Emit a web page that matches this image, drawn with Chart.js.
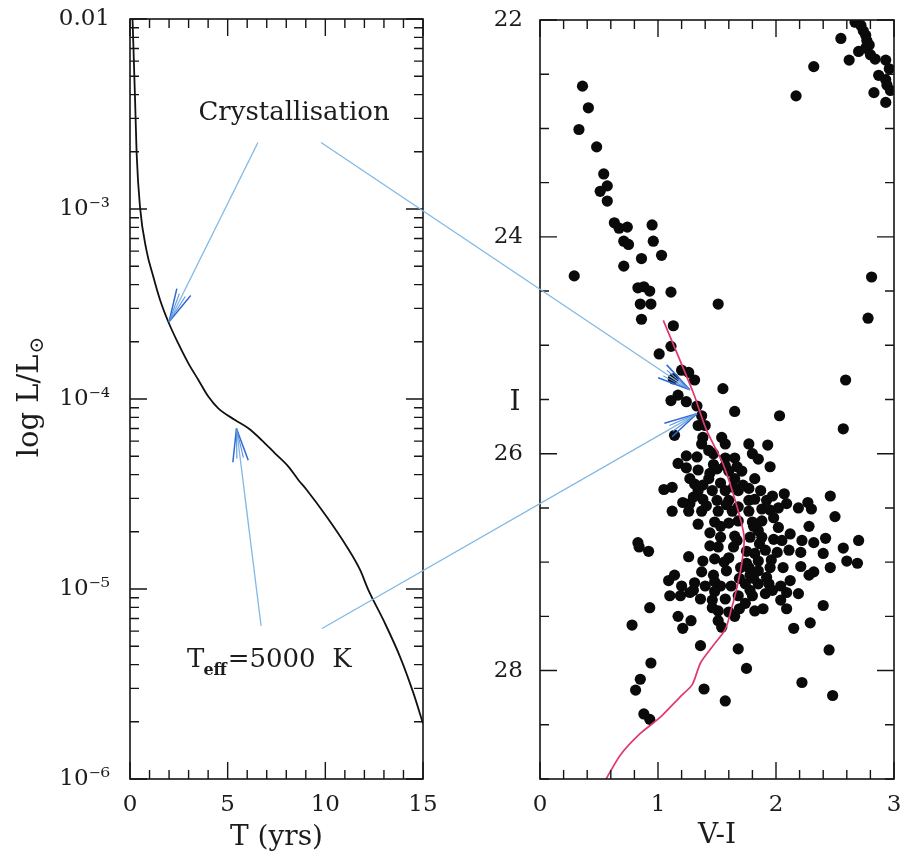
<!DOCTYPE html>
<html><head><meta charset="utf-8">
<script src="https://cdn.jsdelivr.net/npm/chart.js@4.4.1/dist/chart.umd.min.js"></script>
<style>
html,body{margin:0;padding:0;background:#fff;}
#wrap{position:relative;width:905px;height:863px;overflow:hidden;background:#fff;}
#wrap canvas{position:absolute;top:0;}
#cL{left:0;} #cR{left:460px;} #ov{left:0;pointer-events:none;}
</style></head><body>
<div id="wrap">
<canvas id="cL" width="460" height="863"></canvas>
<canvas id="cR" width="445" height="863"></canvas>
<canvas id="ov" width="905" height="863"></canvas>
</div>
<script>
// ---------------- DATA ----------------
// Left panel: white-dwarf cooling curve, age vs luminosity (L/Lsun)
const coolingAge = [0.13, 0.26, 0.34, 0.51, 0.84, 1.19, 1.54, 1.96, 2.47, 2.99, 3.50, 4.01, 4.52, 5.38, 6.06, 6.74, 7.42, 8.11, 8.62, 9.05, 10.07, 11.10, 11.78, 12.20, 12.97, 13.82, 14.51, 15.0];
const coolingLum = [1.0e-2, 3.75e-3, 1.96e-3, 1.03e-3, 6.08e-4, 4.41e-4, 3.32e-4, 2.55e-4, 1.96e-4, 1.54e-4, 1.26e-4, 1.03e-4, 8.93e-5, 7.75e-5, 7.01e-5, 6.08e-5, 5.18e-5, 4.41e-5, 3.75e-5, 3.32e-5, 2.40e-5, 1.67e-5, 1.26e-5, 9.9e-6, 6.87e-6, 4.41e-6, 2.83e-6, 1.96e-6];

// Right panel: theoretical sequence (red line), V-I vs I
const trackVI = [1.045, 1.30, 1.41, 1.55, 1.67, 1.73, 1.71, 1.67, 1.62, 1.57, 1.46, 1.36, 1.29, 1.19, 1.02, 0.85, 0.68, 0.56];
const trackI  = [24.77, 25.44, 25.78, 26.09, 26.49, 26.77, 27.01, 27.23, 27.44, 27.62, 27.78, 27.93, 28.13, 28.24, 28.43, 28.58, 28.78, 29.0];

// Right panel: observed stars [V-I, I]
const upperBranch = [[0.36,22.61],[0.41,22.81],[0.33,23.01],[0.48,23.17],[0.54,23.42],[0.57,23.53],[0.51,23.58],[0.57,23.67],[0.63,23.87],[0.67,23.92],[0.74,23.91],[0.95,23.89],[0.71,24.04],[0.75,24.07],[0.96,24.04],[0.86,24.20],[1.03,24.17],[0.71,24.27],[0.29,24.36],[0.83,24.47],[0.88,24.46],[0.93,24.50],[1.11,24.51],[0.85,24.62],[0.94,24.62],[1.51,24.62],[0.86,24.76],[1.13,24.82],[1.11,25.01],[1.01,25.08],[1.20,25.23],[1.26,25.25],[1.31,25.32],[1.13,25.31],[1.55,25.40],[1.17,25.46],[1.11,25.51],[1.24,25.52],[1.33,25.56],[1.37,25.65],[1.65,25.61],[2.03,25.65],[2.59,25.32],[2.81,24.37],[2.78,24.75],[1.34,25.74],[1.40,25.74],[2.57,25.77]];
const redStars = [[2.55,22.17],[2.62,22.37],[2.32,22.43],[2.17,22.70],[2.67,22.02],[2.72,22.05],[2.74,22.10],[2.76,22.14],[2.77,22.19],[2.79,22.23],[2.70,22.29],[2.76,22.26],[2.80,22.32],[2.84,22.36],[2.93,22.37],[2.96,22.45],[2.87,22.51],[2.93,22.55],[2.94,22.60],[2.97,22.65],[2.83,22.67],[2.93,22.76]];
const sparseStars = [[1.14,25.83],[1.93,25.92],[2.46,26.39],[2.50,26.58],[2.70,26.80],[2.57,26.87],[2.69,27.01],[2.60,26.99],[2.46,27.05],[2.40,27.40],[2.29,27.56],[2.15,27.61],[2.45,27.81],[2.22,28.11],[2.48,28.23],[1.68,27.80],[1.75,27.98],[1.39,28.17],[1.57,28.28],[1.36,27.77],[0.94,27.93],[0.85,28.08],[0.81,28.18],[0.88,28.40],[0.93,28.45],[0.78,27.58],[0.93,27.42],[0.83,26.82],[0.84,26.86],[0.92,26.90],[1.17,27.50],[1.21,27.61],[1.28,27.54],[1.05,26.33],[1.12,26.31],[1.12,26.53],[1.26,26.95]];
const clumpUpper = [[1.38,25.85],[1.54,25.85],[1.57,25.91],[1.77,25.91],[1.37,25.91],[1.43,25.97],[1.24,26.02],[1.17,26.09],[1.24,26.13],[1.34,26.15],[1.47,26.10],[1.57,26.04],[1.65,26.04],[1.80,26.00],[1.85,26.05],[1.71,26.16],[1.60,26.16],[1.50,26.14],[1.27,26.23],[1.31,26.28],[1.43,26.23],[1.53,26.27],[1.65,26.23],[1.82,26.23],[1.34,26.34],[1.46,26.34],[1.57,26.34],[1.68,26.34],[1.77,26.32],[1.87,26.34],[1.21,26.45],[1.27,26.46],[1.38,26.42],[1.50,26.43],[1.60,26.43],[1.77,26.43],[1.82,26.42],[1.92,26.43],[1.26,26.53],[1.37,26.53],[1.51,26.53],[1.63,26.53],[1.77,26.53],[1.88,26.51],[1.34,26.65],[1.48,26.63],[1.68,26.62],[1.80,26.63],[1.88,26.62],[1.97,26.39],[2.07,26.37],[2.02,26.50],[2.19,26.50],[2.27,26.45],[2.30,26.51],[1.98,26.59]];
const clumpLower = [[1.44,26.73],[1.53,26.77],[1.65,26.76],[1.85,26.71],[1.44,26.85],[1.51,26.86],[1.64,26.86],[1.38,26.99],[1.48,26.97],[1.60,26.96],[1.82,26.92],[1.91,26.89],[1.37,27.09],[1.47,27.12],[1.58,27.08],[1.77,27.05],[1.85,27.08],[1.09,27.17],[1.14,27.12],[1.20,27.22],[1.31,27.19],[1.40,27.22],[1.53,27.22],[1.74,27.20],[1.85,27.20],[1.10,27.31],[1.19,27.31],[1.27,27.28],[1.36,27.34],[1.46,27.35],[1.57,27.34],[1.68,27.31],[1.80,27.31],[1.91,27.29],[1.46,27.42],[1.51,27.45],[1.82,27.45],[1.89,27.43],[1.65,27.50],[1.51,27.54],[1.54,27.60]];
const clumpRed = [[2.28,26.67],[2.12,26.74],[2.02,26.68],[1.88,26.77],[1.98,26.79],[2.22,26.80],[2.32,26.82],[2.42,26.78],[2.01,26.91],[2.11,26.89],[2.21,26.91],[2.40,26.92],[2.32,27.09],[2.28,27.12],[2.06,27.05],[2.21,27.04],[1.85,26.99],[1.94,27.20],[2.04,27.22],[2.12,27.17],[2.19,27.29],[2.09,27.28],[1.97,27.26],[2.09,27.43],[2.04,27.35]];
const clumpCore = [[1.33,26.03],[1.47,26.00],[1.57,26.11],[1.67,26.12],[1.95,26.12],[1.38,26.29],[1.64,26.31],[1.72,26.29],[1.58,26.47],[1.68,26.49],[1.95,26.52],[2.09,26.46],[1.53,26.67],[1.60,26.64],[1.81,26.67],[1.67,26.80],[1.78,26.77],[1.86,26.83],[2.05,26.80],[1.75,27.01],[1.96,26.98],[1.69,27.15],[1.81,27.15],[1.92,27.14],[1.48,27.18],[1.30,27.26],[1.48,27.27],[1.78,27.26],[1.60,27.46],[1.69,27.43],[1.75,26.90],[1.78,27.12],[1.74,27.38],[1.70,27.05],[1.41,26.48],[1.44,26.18],[1.30,26.40],[1.56,27.00],[1.62,27.22],[1.95,27.05]];

// Tick values / labels
const ageTicks = [0, 5, 10, 15];
const lumTickValues = [1e-6, 1e-5, 1e-4, 1e-3, 1e-2];
const lumTickLabels = ['10⁻⁶', '10⁻⁵', '10⁻⁴', '10⁻³', '0.01'];
const colourTicks = [0, 1, 2, 3];
const magTicks = [22, 24, 26, 28];

// ---------------- helpers ----------------
const FAMILY = "'DejaVu Serif', serif";
Chart.defaults.font.family = FAMILY;
Chart.defaults.color = '#1c1c1c';
const range = (a, b, s) => { const r = []; for (let v = a; v <= b + 1e-9; v += s) r.push(+v.toFixed(6)); return r; };
const lumMinor = []; for (let e = -6; e < -2; e++) for (let k = 2; k <= 9; k++) lumMinor.push(k * Math.pow(10, e));

const boxTicks = {
  id: 'boxTicks',
  afterDraw(chart, _a, o) {
    const {ctx, chartArea: a, scales: {x, y}} = chart;
    ctx.save();
    ctx.strokeStyle = '#151515';
    ctx.lineWidth = 1.6;
    ctx.strokeRect(a.left, a.top, a.right - a.left, a.bottom - a.top);
    ctx.lineWidth = 1.4;
    ctx.beginPath();
    const xs = o.xMinor.map(v => [v, 9]).concat(o.xMajor.map(v => [v, 17]));
    for (const [v, len] of xs) {
      const p = x.getPixelForValue(v);
      if (p < a.left - 0.5 || p > a.right + 0.5) continue;
      ctx.moveTo(p, a.bottom); ctx.lineTo(p, a.bottom - len);
      ctx.moveTo(p, a.top); ctx.lineTo(p, a.top + len);
    }
    const ys = o.yMinor.map(v => [v, 9]).concat(o.yMajor.map(v => [v, 17]));
    for (const [v, len] of ys) {
      const p = y.getPixelForValue(v);
      if (p < a.top - 0.5 || p > a.bottom + 0.5) continue;
      ctx.moveTo(a.left, p); ctx.lineTo(a.left + len, p);
      ctx.moveTo(a.right, p); ctx.lineTo(a.right - len, p);
    }
    ctx.stroke();
    ctx.restore();
  }
};

const sideTitle = {
  id: 'sideTitle',
  afterDraw(chart, _a, o) {
    const {ctx, chartArea: a} = chart;
    ctx.save();
    ctx.fillStyle = '#1c1c1c';
    ctx.translate(o.x, (a.top + a.bottom) / 2 + (o.dy || 0));
    if (o.rotate) ctx.rotate(-Math.PI / 2);
    const mainFont = o.size + 'px ' + FAMILY, subFont = (o.subSize || 18) + 'px ' + FAMILY;
    ctx.font = mainFont; const w1 = ctx.measureText(o.text).width;
    let w2 = 0;
    if (o.sub) { ctx.font = subFont; w2 = ctx.measureText(o.sub).width + 1; }
    const start = -(w1 + w2) / 2;
    ctx.textAlign = 'left'; ctx.textBaseline = 'alphabetic';
    ctx.font = mainFont; ctx.fillText(o.text, start, o.baseline);
    if (o.sub) { ctx.font = subFont; ctx.fillText(o.sub, start + w1 + 1, o.baseline + o.subShift); }
    ctx.restore();
  }
};

const tickFont = {size: 23};
const noGrid = {display: false, drawTicks: false};
const zeroPad = s => { s.paddingTop = 0; s.paddingBottom = 0; s.paddingLeft = 0; s.paddingRight = 0; };

// ---------------- LEFT CHART ----------------
const leftChart = new Chart(document.getElementById('cL'), {
  type: 'line',
  data: {
    datasets: [{
      data: coolingAge.map((t, i) => ({x: t, y: coolingLum[i]})),
      borderColor: '#111', borderWidth: 1.8, pointRadius: 0,
      cubicInterpolationMode: 'monotone', fill: false
    }]
  },
  options: {
    responsive: false, animation: false, events: [],
    layout: {autoPadding: false, padding: {left: 0, right: 37, top: 19, bottom: 0}},
    plugins: {
      legend: {display: false}, tooltip: {enabled: false},
      boxTicks: {xMajor: ageTicks, xMinor: range(0, 15, 1), yMajor: lumTickValues, yMinor: lumMinor},
      sideTitle: {text: 'log L/L', sub: '⊙', size: 29, subSize: 20, subShift: 5, x: 38, dy: -2, baseline: 0, rotate: true}
    },
    scales: {
      x: {
        type: 'linear', min: 0, max: 15,
        afterBuildTicks: s => { s.ticks = ageTicks.map(v => ({value: v})); },
        ticks: {font: tickFont, padding: 12, maxRotation: 0, autoSkip: false},
        grid: noGrid, border: {display: false},
        title: {display: true, text: 'T (yrs)', font: {size: 28}, padding: {top: 0, bottom: 8}},
        afterFit: s => { s.height = 84; zeroPad(s); }
      },
      y: {
        type: 'logarithmic', min: 1e-6, max: 1e-2,
        afterBuildTicks: s => { s.ticks = lumTickValues.map(v => ({value: v})); },
        ticks: {font: tickFont, padding: 20, autoSkip: false,
                callback: v => lumTickLabels[lumTickValues.indexOf(v)]},
        grid: noGrid, border: {display: false},
        afterFit: s => { s.width = 130; zeroPad(s); }
      }
    }
  },
  plugins: [boxTicks, sideTitle]
});

// ---------------- RIGHT CHART ----------------
const allStars = upperBranch.concat(redStars, sparseStars, clumpUpper, clumpLower, clumpRed, clumpCore);
const rightChart = new Chart(document.getElementById('cR'), {
  type: 'scatter',
  data: {
    datasets: [
      {
        data: trackVI.map((v, i) => ({x: v, y: trackI[i]})),
        showLine: true, borderColor: '#e0386c', borderWidth: 1.7, pointRadius: 0,
        tension: 0.25, fill: false, order: 0
      },
      {
        data: allStars.map(p => ({x: p[0], y: p[1]})),
        pointRadius: 5.6, pointBackgroundColor: '#0a0a0a', pointBorderWidth: 0,
        borderColor: '#0a0a0a', showLine: false, order: 1
      }
    ]
  },
  options: {
    responsive: false, animation: false, events: [],
    layout: {autoPadding: false, padding: {left: 0, right: 11, top: 20, bottom: 0}},
    plugins: {
      legend: {display: false}, tooltip: {enabled: false},
      boxTicks: {xMajor: colourTicks, xMinor: range(0, 3, 0.2), yMajor: magTicks, yMinor: range(22, 29, 0.5)},
      sideTitle: {text: 'I', size: 28, x: 55, dy: 0, baseline: 10, rotate: false}
    },
    scales: {
      x: {
        type: 'linear', min: 0, max: 3,
        afterBuildTicks: s => { s.ticks = colourTicks.map(v => ({value: v})); },
        ticks: {font: tickFont, padding: 12, maxRotation: 0, autoSkip: false},
        grid: noGrid, border: {display: false},
        title: {display: true, text: 'V-I', font: {size: 28}, padding: {top: 0, bottom: 10}},
        afterFit: s => { s.height = 84; zeroPad(s); }
      },
      y: {
        type: 'linear', min: 22, max: 29, reverse: true,
        afterBuildTicks: s => { s.ticks = magTicks.map(v => ({value: v})); },
        ticks: {font: tickFont, padding: 17, autoSkip: false},
        grid: noGrid, border: {display: false},
        afterFit: s => { s.width = 80; zeroPad(s); }
      }
    }
  },
  plugins: [boxTicks, sideTitle]
});

// ---------------- ANNOTATIONS (overlay) ----------------
const annotationArrows = [
  {from: ['L', 6.55, 2.24e-3], to: ['L', 2.0, 2.55e-4]},
  {from: ['L', 9.78, 2.24e-3], to: ['R', 1.27, 25.41]},
  {from: ['L', 6.71, 6.4e-6], to: ['L', 5.45, 7.0e-5]},
  {from: ['L', 9.83, 6.2e-6], to: ['R', 1.33, 25.63]}
];

function toPx(p) {
  const c = p[0] === 'L' ? leftChart : rightChart;
  const off = p[0] === 'L' ? 0 : 460;
  return [off + c.scales.x.getPixelForValue(p[1]), c.scales.y.getPixelForValue(p[2])];
}

function drawOverlay() {
  const ctx = document.getElementById('ov').getContext('2d');
  ctx.clearRect(0, 0, 905, 863);
  for (const ar of annotationArrows) {
    const p0 = toPx(ar.from), p1 = toPx(ar.to);
    ctx.strokeStyle = '#80b9e6'; ctx.lineWidth = 1.3;
    ctx.beginPath(); ctx.moveTo(p0[0], p0[1]); ctx.lineTo(p1[0], p1[1]); ctx.stroke();
    const ang = Math.atan2(p0[1] - p1[1], p0[0] - p1[0]);
    const heads = [[0.23, 34, '#2f6ad4', 1.5], [-0.23, 34, '#2f6ad4', 1.5], [0.11, 30, '#5b93e0', 1.1], [-0.11, 30, '#5b93e0', 1.1]];
    for (const [d, len, col, lw] of heads) {
      ctx.strokeStyle = col; ctx.lineWidth = lw;
      ctx.beginPath(); ctx.moveTo(p1[0], p1[1]);
      ctx.lineTo(p1[0] + len * Math.cos(ang + d), p1[1] + len * Math.sin(ang + d));
      ctx.stroke();
    }
  }
  ctx.fillStyle = '#1c1c1c';
  // "Crystallisation"
  const c = toPx(['L', 8.4, 3.2e-3]);
  ctx.font = '26px ' + FAMILY; ctx.textAlign = 'center'; ctx.textBaseline = 'alphabetic';
  ctx.fillText('Crystallisation', c[0], c[1] + 7);
  // "Teff=5000 K"
  const t = toPx(['L', 2.92, 3.88e-6]);
  ctx.textAlign = 'left';
  ctx.font = '26px ' + FAMILY;
  ctx.fillText('T', t[0], t[1]);
  let xx = t[0] + ctx.measureText('T').width;
  ctx.font = 'bold 16px ' + FAMILY;
  ctx.fillText('eff', xx - 1, t[1] + 8);
  xx += ctx.measureText('eff').width;
  ctx.font = '26px ' + FAMILY;
  ctx.fillText('=5000  K', xx, t[1]);
}
drawOverlay();
</script>
</body></html>
